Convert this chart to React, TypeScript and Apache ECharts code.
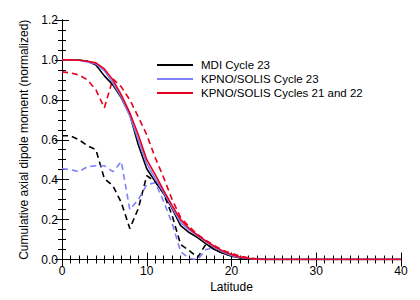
import React, { useEffect, useRef } from "react";
import * as echarts from "echarts";

const latitudes = [0, 1, 2, 3, 4, 5, 6, 7, 8, 9, 10, 11, 12, 13, 14, 15, 16, 17, 18, 19, 20, 21, 22, 23, 24, 25, 40];

const mdiSolid = [1.0, 1.0, 1.0, 0.993, 0.975, 0.92, 0.875, 0.81, 0.725, 0.575, 0.455, 0.39, 0.33, 0.255, 0.17, 0.135, 0.11, 0.078, 0.05, 0.031, 0.017, 0.009, 0.005, 0.002, 0, 0, 0];
const kpno23Solid = [1.0, 1.0, 0.998, 0.99, 0.98, 0.945, 0.885, 0.815, 0.72, 0.6, 0.48, 0.405, 0.335, 0.26, 0.185, 0.148, 0.118, 0.088, 0.06, 0.038, 0.02, 0.01, 0.005, 0.002, 0, 0, 0];
const kpno2122Solid = [1.0, 1.0, 0.998, 0.993, 0.985, 0.955, 0.9, 0.825, 0.735, 0.625, 0.5, 0.425, 0.345, 0.27, 0.2, 0.155, 0.122, 0.092, 0.065, 0.042, 0.025, 0.013, 0.006, 0.002, 0, 0, 0];

const mdiDashed = [0.62, 0.62, 0.6, 0.57, 0.55, 0.405, 0.37, 0.285, 0.155, 0.255, 0.42, 0.39, 0.33, 0.22, 0.075, 0.045, 0.01, 0.078, 0.05, 0.031, 0.017, 0.009, 0.005, 0.002, 0, 0, 0];
const kpno23Dashed = [0.455, 0.45, 0.44, 0.465, 0.47, 0.47, 0.44, 0.49, 0.25, 0.3, 0.375, 0.385, 0.29, 0.18, 0.04, 0.005, 0.0, 0.05, 0.06, 0.037, 0.02, 0.01, 0.005, 0, 0, 0, 0];
const kpno2122Dashed = [0.94, 0.935, 0.925, 0.9, 0.85, 0.76, 0.905, 0.865, 0.8, 0.715, 0.625, 0.51, 0.41, 0.3, 0.21, 0.165, 0.125, 0.095, 0.07, 0.045, 0.03, 0.018, 0.008, 0.003, 0, 0, 0];

const seriesNames = ["MDI Cycle 23", "KPNO/SOLIS Cycle 23", "KPNO/SOLIS Cycles 21 and 22"];
const dashedNames = ["MDI Cycle 23 (dashed)", "KPNO/SOLIS Cycle 23 (dashed)", "KPNO/SOLIS Cycles 21 and 22 (dashed)"];

const xTitle = "Latitude";
const yTitle = "Cumulative axial dipole moment (normalized)";

const colors = ["#000000", "#8080ff", "#e8001e"];
const FONT = "'Liberation Sans', Arial, Helvetica, sans-serif";

const pair = (vals: number[]) => latitudes.map((x, i) => [x, vals[i]]);

export default function App() {
  const ref = useRef<HTMLDivElement>(null);
  useEffect(() => {
    document.body.style.margin = "0";
    if (!ref.current) return;
    const chart = echarts.init(ref.current, null, { renderer: "svg" });
    const axisLine = { show: true, lineStyle: { color: "#000", width: 1 } };
    const axisTick = { show: true, inside: true, length: 7, lineStyle: { color: "#000", width: 1 } };
    const minor = (n: number) => ({ show: true, splitNumber: n, length: 4, lineStyle: { color: "#000", width: 1 } });
    const solid = [mdiSolid, kpno23Solid, kpno2122Solid];
    const dashed = [mdiDashed, kpno23Dashed, kpno2122Dashed];
    const series: any[] = [];
    dashed.forEach((d, i) =>
      series.push({
        name: dashedNames[i],
        type: "line",
        data: pair(d),
        showSymbol: false,
        symbol: "none",
        lineStyle: { color: colors[i], width: 1.6, type: [6, 4] },
        itemStyle: { color: colors[i] },
        z: 2,
      })
    );
    solid.forEach((d, i) =>
      series.push({
        name: seriesNames[i],
        type: "line",
        data: pair(d),
        showSymbol: false,
        symbol: "none",
        lineStyle: { color: colors[i], width: 1.6 },
        itemStyle: { color: colors[i] },
        z: 3,
      })
    );
    chart.setOption({
      animation: false,
      backgroundColor: "#ffffff",
      textStyle: { fontFamily: FONT },
      grid: { left: 62, right: 19, top: 20, bottom: 40.5, containLabel: false },
      legend: {
        data: seriesNames,
        orient: "vertical",
        left: 157,
        top: 58,
        padding: 0,
        itemGap: 0,
        itemWidth: 36,
        itemHeight: 2,
        icon: "rect",
        selectedMode: false,
        textStyle: { fontFamily: FONT, fontSize: 11.5, color: "#000", lineHeight: 14, padding: [0, 0, 0, 3] },
      },
      xAxis: [
        {
          type: "value",
          min: 0,
          max: 40,
          interval: 10,
          minorTick: minor(10),
          axisLine,
          axisTick,
          splitLine: { show: false },
          axisLabel: { color: "#000", fontSize: 12, fontFamily: FONT, margin: 5 },
          name: xTitle,
          nameLocation: "middle",
          nameGap: 19,
          nameTextStyle: { color: "#000", fontSize: 12, fontFamily: FONT },
        },
        {
          type: "value",
          position: "top",
          min: 0,
          max: 40,
          interval: 10,
          minorTick: minor(10),
          axisLine,
          axisTick,
          splitLine: { show: false },
          axisLabel: { show: false },
        },
      ],
      yAxis: [
        {
          type: "value",
          min: 0,
          max: 1.2,
          interval: 0.2,
          minorTick: minor(4),
          axisLine,
          axisTick,
          splitLine: { show: false },
          axisLabel: {
            color: "#000",
            fontSize: 12,
            fontFamily: FONT,
            margin: 4,
            formatter: (v: number) => v.toFixed(1),
          },
          name: yTitle,
          nameLocation: "middle",
          nameGap: 25,
          nameTextStyle: { color: "#000", fontSize: 12, fontFamily: FONT },
        },
        {
          type: "value",
          position: "right",
          min: 0,
          max: 1.2,
          interval: 0.2,
          minorTick: minor(4),
          axisLine,
          axisTick,
          splitLine: { show: false },
          axisLabel: { show: false },
        },
      ],
      series,
    });
    return () => chart.dispose();
  }, []);
  return <div ref={ref} style={{ width: 420, height: 300 }} />;
}
